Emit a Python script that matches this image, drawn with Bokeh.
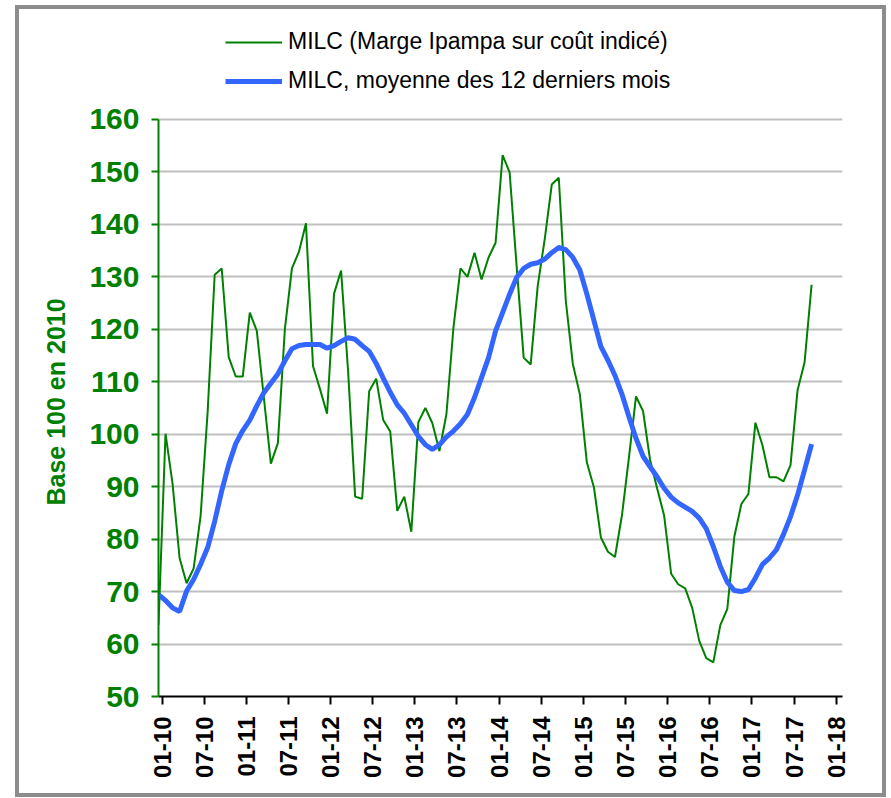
from bokeh.plotting import figure
from bokeh.models import Range1d, FixedTicker, Legend, LegendItem, Title
from bokeh.embed import file_html
from bokeh.resources import INLINE
import math

# month index 0 = first month of the series (start of 2010)
months = list(range(94))

milc = [63.7, 100.1, 90.6, 76.4, 71.6, 74.4, 84.5, 104.3, 130.4, 131.6,
        114.7, 111.0, 111.0, 123.2, 119.7, 107.0, 94.4, 98.3, 120.1, 131.6,
        134.8, 140.2, 113.0, 108.6, 103.9, 126.8, 131.2, 112.0, 88.1, 87.7,
        108.2, 110.6, 102.7, 100.5, 85.4, 88.1, 81.4, 102.3, 105.0, 102.1,
        96.8, 103.8, 120.3, 131.6, 130.0, 134.6, 129.5, 133.7, 136.5, 153.2,
        149.9, 132.0, 114.6, 113.3, 128.3, 137.2, 147.6, 148.9, 125.4, 113.4,
        107.6, 94.6, 89.9, 80.3, 77.6, 76.6, 84.6, 95.7, 107.2, 104.4,
        95.1, 89.7, 84.5, 73.4, 71.4, 70.6, 66.9, 60.6, 57.3, 56.5,
        63.6, 66.7, 80.5, 86.7, 88.6, 102.2, 97.9, 91.8, 91.8, 91.0,
        94.1, 108.4, 113.7, 128.5]

milc_12m = [69.4, 68.3, 66.9, 66.2, 70.1, 72.3, 75.2, 78.4, 83.4, 89.2,
            94.2, 98.2, 100.7, 102.7, 105.4, 107.9, 109.7, 111.5, 114.0, 116.3,
            116.9, 117.1, 117.1, 117.1, 116.4, 116.9, 117.7, 118.4, 118.1, 116.9,
            115.8, 113.5, 110.7, 108.0, 105.6, 104.0, 101.8, 99.6, 98.0, 97.1,
            98.0, 99.5, 100.6, 102.0, 103.8, 107.0, 110.8, 114.6, 119.7, 123.2,
            126.7, 129.9, 131.6, 132.4, 132.7, 133.4, 134.6, 135.6, 135.2, 133.7,
            131.3, 126.7, 121.7, 116.7, 114.1, 111.2, 107.6, 103.3, 99.2, 95.8,
            93.8, 91.9, 89.7, 88.0, 86.9, 86.1, 85.3, 84.0, 82.0, 78.6,
            74.8, 71.8, 70.2, 70.0, 70.4, 72.6, 75.2, 76.4, 78.0, 80.9,
            84.3, 88.4, 93.2, 98.1]

tick_positions = [0.5, 6.5, 12.5, 18.5, 24.5, 30.5, 36.5, 42.5, 48.5,
                  54.5, 60.5, 66.5, 72.5, 78.5, 84.5, 90.5, 96.5]
tick_labels = ["01-10", "07-10", "01-11", "07-11", "01-12", "07-12", "01-13",
               "07-13", "01-14", "07-14", "01-15", "07-15", "01-16", "07-16",
               "01-17", "07-17", "01-18"]
y_ticks = [50, 60, 70, 80, 90, 100, 110, 120, 130, 140, 150, 160]

series_labels = ["MILC (Marge Ipampa sur coût indicé)",
                 "MILC, moyenne des 12 derniers mois"]
y_title = "Base 100 en 2010"

GREEN = "#008000"
BLUE = "#3366FF"
FONT = "Liberation Sans"

# frame extends above 160 to leave room for the legend; axis is bounded to 50-160
p = figure(width=871, height=792, output_backend="svg", toolbar_location=None,
           x_range=Range1d(0, 97.4), y_range=Range1d(50, 178.49),
           min_border_left=139, min_border_right=48,
           min_border_top=13, min_border_bottom=105)
p.styles = {"border": "4px solid #8C8C8C", "margin": "5px 0px 0px 15px"}
p.outline_line_color = None
p.background_fill_color = "white"
p.border_fill_color = "white"

r1 = p.line(months, milc, line_color=GREEN, line_width=2)
r2 = p.line(months, milc_12m, line_color=BLUE, line_width=5)

# grid
p.xgrid.grid_line_color = None
p.ygrid.ticker = FixedTicker(ticks=y_ticks)
p.ygrid.grid_line_color = "#BFBFBF"
p.ygrid.grid_line_width = 2

# y axis
ya = p.yaxis[0]
ya.ticker = FixedTicker(ticks=y_ticks)
ya.bounds = (50, 160)
ya.axis_line_color = GREEN
ya.axis_line_width = 2
ya.major_tick_line_color = GREEN
ya.major_tick_line_width = 2
ya.major_tick_out = 7
ya.major_tick_in = 0
ya.minor_tick_line_color = None
ya.major_label_text_color = GREEN
ya.major_label_text_font = FONT
ya.major_label_text_font_style = "bold"
ya.major_label_text_font_size = "30px"
ya.major_label_standoff = 12

# y title, centred on the 50-160 part of the axis
title = Title(text=y_title, align="left", offset=191, standoff=34,
              text_color=GREEN, text_font=FONT, text_font_style="bold",
              text_font_size="25px")
p.add_layout(title, "left")

# x axis
xa = p.xaxis[0]
xa.ticker = FixedTicker(ticks=tick_positions)
xa.major_label_overrides = {pos: lab for pos, lab in zip(tick_positions, tick_labels)}
xa.axis_line_color = "black"
xa.axis_line_width = 2
xa.major_tick_line_color = "black"
xa.major_tick_line_width = 2
xa.major_tick_out = 8
xa.major_tick_in = 0
xa.minor_tick_line_color = None
xa.major_label_orientation = math.pi / 2
xa.major_label_text_color = "black"
xa.major_label_text_font = FONT
xa.major_label_text_font_style = "bold"
xa.major_label_text_font_size = "24px"
xa.major_label_standoff = 12

legend = Legend(items=[LegendItem(label=series_labels[0], renderers=[r1]),
                       LegendItem(label=series_labels[1], renderers=[r2])],
                location=(67, 602), orientation="vertical",
                padding=0, margin=0, spacing=12,
                glyph_width=57, glyph_height=26, label_height=26,
                label_standoff=6,
                label_text_font=FONT, label_text_font_size="23px",
                label_text_color="black",
                border_line_color=None, background_fill_alpha=0)
p.add_layout(legend, "center")

open("out.html", "w").write(file_html(p, INLINE))
